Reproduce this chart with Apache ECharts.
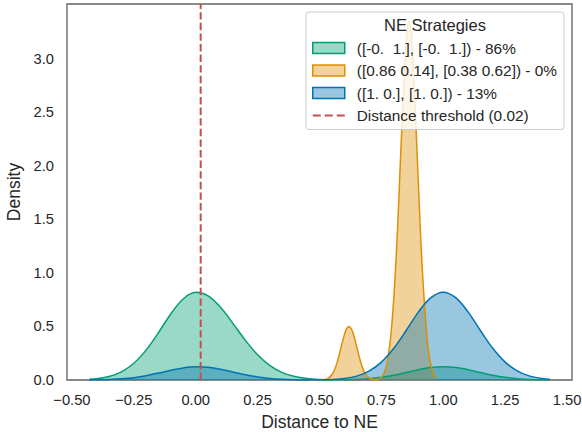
<!DOCTYPE html>
<html>
<head>
<meta charset="utf-8">
<script src="https://cdn.jsdelivr.net/npm/echarts@6/dist/echarts.min.js"></script>
<style>
html,body{margin:0;padding:0;background:#fff;}
#chart{width:582px;height:432px;}
</style>
</head>
<body>
<div id="chart"></div>
<script>
// ---- data ----
const strategyLabels = [
  "([-0.  1.], [-0.  1.]) - 86%",
  "([0.86 0.14], [0.38 0.62]) - 0%",
  "([1. 0.], [1. 0.]) - 13%"
];
const thresholdLabel = "Distance threshold (0.02)";
const legendTitle = "NE Strategies";
const thresholdValue = 0.02;

const kdeX = [-0.43,-0.40,-0.35,-0.30,-0.25,-0.20,-0.15,-0.10,-0.05,0.00,0.05,0.10,0.15,0.20,0.25,0.30,0.35,0.40,0.45,0.50,0.55,0.60,0.65,0.70,0.75,0.80,0.85,0.90,0.95,1.00,1.05,1.10,1.15,1.20,1.25,1.30,1.35,1.40,1.43];
const greenDensity = [0.007,0.012,0.033,0.076,0.156,0.281,0.444,0.619,0.759,0.819,0.786,0.680,0.529,0.372,0.235,0.134,0.069,0.032,0.013,0.005,0.002,0.003,0.005,0.012,0.025,0.045,0.070,0.096,0.116,0.124,0.116,0.096,0.070,0.045,0.025,0.012,0.005,0.002,0.001];
const blueDensity = [0.001,0.002,0.005,0.011,0.022,0.040,0.065,0.091,0.113,0.124,0.119,0.101,0.075,0.049,0.029,0.015,0.007,0.003,0.001,0.002,0.005,0.014,0.036,0.083,0.167,0.296,0.462,0.636,0.769,0.820,0.769,0.636,0.462,0.296,0.167,0.083,0.036,0.014,0.007];

const orangeX = [0.515,0.52,0.53,0.54,0.55,0.56,0.57,0.58,0.59,0.60,0.61,0.62,0.63,0.64,0.65,0.66,0.67,0.68,0.69,0.70,0.71,0.72,0.73,0.74,0.75,0.76,0.77,0.78,0.79,0.80,0.81,0.82,0.83,0.84,0.85,0.86,0.87,0.88,0.89,0.90,0.91,0.92,0.93,0.94,0.95,0.96,0.97];
const orangeDensity = [0.002,0.004,0.011,0.024,0.049,0.091,0.155,0.238,0.332,0.419,0.481,0.500,0.471,0.403,0.313,0.220,0.140,0.081,0.043,0.020,0.009,0.004,0.003,0.010,0.025,0.060,0.130,0.260,0.460,0.760,1.160,1.660,2.220,2.700,3.150,3.350,3.250,2.880,2.350,1.800,1.270,0.850,0.520,0.280,0.140,0.060,0.020];

const xTicks = [-0.50,-0.25,0.00,0.25,0.50,0.75,1.00,1.25,1.50];
const yTicks = [0.0,0.5,1.0,1.5,2.0,2.5,3.0];

// ---- styling ----
const FONT = "'Liberation Sans', Arial, sans-serif";
const TXT = '#262626';
const colors = ['#029e73', '#de8f05', '#0173b2'];
const fills = ['rgba(2,158,115,0.4)', 'rgba(222,143,5,0.4)', 'rgba(1,115,178,0.4)'];
const redColor = '#c44e52';
const X_MIN = -0.52, X_MAX = 1.52, Y_MIN = 0, Y_MAX = 3.51;

function pairs(xs, ys) { return xs.map((x, i) => [x, ys[i]]); }

function kdeSeries(idx, xs, ys) {
  return {
    type: 'line',
    name: strategyLabels[idx],
    data: pairs(xs, ys),
    smooth: 0.35,
    symbol: 'none',
    showSymbol: false,
    lineStyle: { color: colors[idx], width: 1.5 },
    itemStyle: { color: colors[idx] },
    areaStyle: { color: fills[idx], opacity: 1 },
    emphasis: { disabled: true },
    z: 2
  };
}

const chart = echarts.init(document.getElementById('chart'), null, { renderer: 'svg' });

const option = {
  animation: false,
  backgroundColor: '#ffffff',
  textStyle: { fontFamily: FONT, color: TXT },
  grid: {
    left: 67, right: 10, top: 4, bottom: 52,
    show: true, borderColor: '#8a8a8a', borderWidth: 1.8,
    backgroundColor: 'transparent',
    containLabel: false, outerBoundsMode: 'none'
  },
  title: {
    text: legendTitle,
    left: 435, top: 16,
    textAlign: 'center',
    padding: 0,
    z: 20,
    textStyle: { fontFamily: FONT, fontSize: 16.5, fontWeight: 'normal', color: TXT }
  },
  legend: {
    orient: 'vertical',
    left: 306, top: 12,
    padding: [28, 7, 6, 6],
    itemWidth: 32, itemHeight: 11, itemGap: 6.5,
    backgroundColor: 'rgba(255,255,255,0.8)',
    borderColor: '#cccccc', borderWidth: 1, borderRadius: 3,
    selectedMode: false,
    z: 10,
    textStyle: { fontFamily: FONT, fontSize: 15.4, color: TXT, lineHeight: 16, padding: [0, 0, 0, 7] },
    data: [
      { name: strategyLabels[0], icon: 'rect', itemStyle: { color: fills[0], borderColor: colors[0], borderWidth: 1.5 } },
      { name: strategyLabels[1], icon: 'rect', itemStyle: { color: fills[1], borderColor: colors[1], borderWidth: 1.5 } },
      { name: strategyLabels[2], icon: 'rect', itemStyle: { color: fills[2], borderColor: colors[2], borderWidth: 1.5 } },
      { name: thresholdLabel, icon: 'path://M0,0H8V2H0Z M12,0H20V2H12Z M24,0H32V2H24Z', itemStyle: { color: redColor, borderWidth: 0 } }
    ]
  },
  xAxis: {
    type: 'value',
    min: X_MIN, max: X_MAX,
    name: 'Distance to NE',
    nameLocation: 'middle',
    nameGap: 33,
    nameTextStyle: { fontFamily: FONT, fontSize: 17.5, color: TXT },
    axisLine: { show: false },
    axisTick: { show: false, customValues: xTicks },
    splitLine: { show: false },
    axisLabel: {
      customValues: xTicks,
      margin: 12,
      fontFamily: FONT, fontSize: 14.7, color: TXT,
      formatter: v => v.toFixed(2).replace('-', '\u2212')
    }
  },
  yAxis: {
    type: 'value',
    min: Y_MIN, max: Y_MAX,
    name: 'Density',
    nameLocation: 'middle',
    nameGap: 41,
    nameRotate: 90,
    nameTextStyle: { fontFamily: FONT, fontSize: 17.5, color: TXT },
    axisLine: { show: false },
    axisTick: { show: false, customValues: yTicks },
    splitLine: { show: false },
    axisLabel: {
      customValues: yTicks,
      margin: 13,
      fontFamily: FONT, fontSize: 14.7, color: TXT,
      formatter: v => v.toFixed(1)
    }
  },
  series: [
    kdeSeries(0, kdeX, greenDensity),
    kdeSeries(1, orangeX, orangeDensity),
    kdeSeries(2, kdeX, blueDensity),
    {
      type: 'line',
      name: thresholdLabel,
      data: [[thresholdValue, Y_MIN], [thresholdValue, Y_MAX]],
      symbol: 'none',
      showSymbol: false,
      lineStyle: { color: redColor, width: 2, type: [7.4, 3.2] },
      itemStyle: { color: redColor },
      emphasis: { disabled: true },
      z: 3
    }
  ]
};

chart.setOption(option);
</script>
</body>
</html>
